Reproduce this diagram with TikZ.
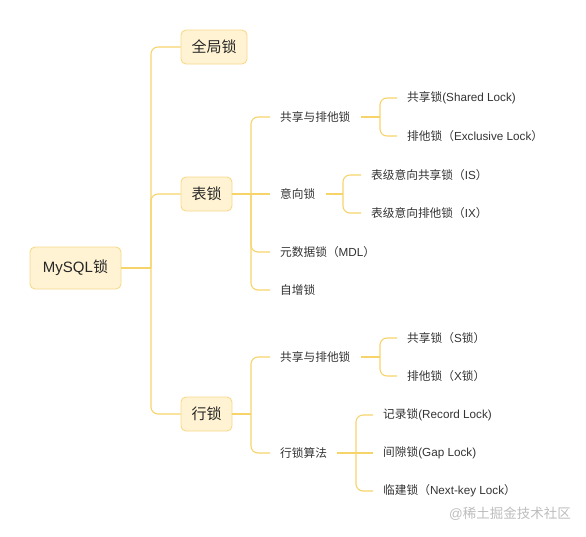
\documentclass[tikz,border=0pt]{standalone}
\usepackage{fontspec}
\setmainfont{Liberation Sans}
\newfontfamily\cjk{Noto Sans CJK SC}
\newcommand\zh[1]{{\cjk #1}}
\definecolor{linec}{HTML}{F7D46A}
\definecolor{boxfill}{HTML}{FFF3D3}
\definecolor{boxline}{HTML}{F8D98A}
\definecolor{txt}{HTML}{333333}
\definecolor{wm}{HTML}{BDBDBD}
\begin{document}
\begin{tikzpicture}[x=1pt,y=-1pt,
  conn/.style={draw=linec,line width=1.1pt,rounded corners=7pt},
  mainbox/.style={draw=boxline,fill=boxfill,line width=0.9pt,rounded corners=5pt,
    font=\fontsize{15}{18}\selectfont,text=black!85,inner sep=0pt,minimum height=34pt},
  leaf/.style={anchor=west,inner xsep=10pt,inner ysep=2pt,text=txt,
    font=\fontsize{11.7}{14}\selectfont}]
\useasboundingbox (0,0) rectangle (586,536);
% main boxes
\node[mainbox,minimum width=91pt,minimum height=42pt] (root) at (75.5,268) {MySQL\zh{锁}};
\node[mainbox,minimum width=66pt] (g) at (214,47) {\zh{全局锁}};
\node[mainbox,minimum width=51pt] (b) at (206.5,194) {\zh{表锁}};
\node[mainbox,minimum width=51pt] (r) at (206.5,414) {\zh{行锁}};
% table lock children
\node[leaf] (b1) at (270,117) {\zh{共享与排他锁}};
\node[leaf] (b2) at (270,194) {\zh{意向锁}};
\node[leaf] (b3) at (270,252) {\zh{元数据锁（}MDL\zh{）}};
\node[leaf] (b4) at (270,290) {\zh{自增锁}};
\node[leaf] (b11) at (397,98) {\zh{共享锁}(Shared Lock)};
\node[leaf] (b12) at (397,136) {\zh{排他锁（}Exclusive Lock\zh{）}};
\node[leaf] (b21) at (361,175) {\zh{表级意向共享锁（}IS\zh{）}};
\node[leaf] (b22) at (361,213) {\zh{表级意向排他锁（}IX\zh{）}};
% row lock children
\node[leaf] (r1) at (270,357) {\zh{共享与排他锁}};
\node[leaf] (r2) at (270,453) {\zh{行锁算法}};
\node[leaf] (r11) at (397,338) {\zh{共享锁（}S\zh{锁）}};
\node[leaf] (r12) at (397,376) {\zh{排他锁（}X\zh{锁）}};
\node[leaf] (r21) at (373,415) {\zh{记录锁}(Record Lock)};
\node[leaf] (r22) at (373,453) {\zh{间隙锁}(Gap Lock)};
\node[leaf] (r23) at (373,491) {\zh{临建锁（}Next-key Lock\zh{）}};
% watermark
\node[anchor=east,text=wm,inner sep=0pt,font=\fontsize{13.5}{16}\selectfont] (wmk) at (571,514) {@\zh{稀土掘金技术社区}};
% junctions
\coordinate (j0) at (151,268);
\coordinate (jb) at (251,194);
\coordinate (jr) at (251,414);
\coordinate (jb1) at (380,117);
\coordinate (jb2) at (343,194);
\coordinate (jr1) at (380,357);
\coordinate (jr2) at (356,453);
% connectors
\draw[conn] (root.east) -- (j0);
\draw[conn] (j0) |- (g.west);
\draw[conn] (j0) |- (b.west);
\draw[conn] (j0) |- (r.west);
\draw[conn] (b.east) -- (jb) -- (b2.west);
\draw[conn] (jb) |- (b1.west);
\draw[conn] (jb) |- (b3.west);
\draw[conn] (jb) |- (b4.west);
\draw[conn] (b1.east) -- (jb1);
\draw[conn] (jb1) |- (b11.west);
\draw[conn] (jb1) |- (b12.west);
\draw[conn] (b2.east) -- (jb2);
\draw[conn] (jb2) |- (b21.west);
\draw[conn] (jb2) |- (b22.west);
\draw[conn] (r.east) -- (jr);
\draw[conn] (jr) |- (r1.west);
\draw[conn] (jr) |- (r2.west);
\draw[conn] (r1.east) -- (jr1);
\draw[conn] (jr1) |- (r11.west);
\draw[conn] (jr1) |- (r12.west);
\draw[conn] (r2.east) -- (jr2) -- (r22.west);
\draw[conn] (jr2) |- (r21.west);
\draw[conn] (jr2) |- (r23.west);
\end{tikzpicture}
\end{document}
